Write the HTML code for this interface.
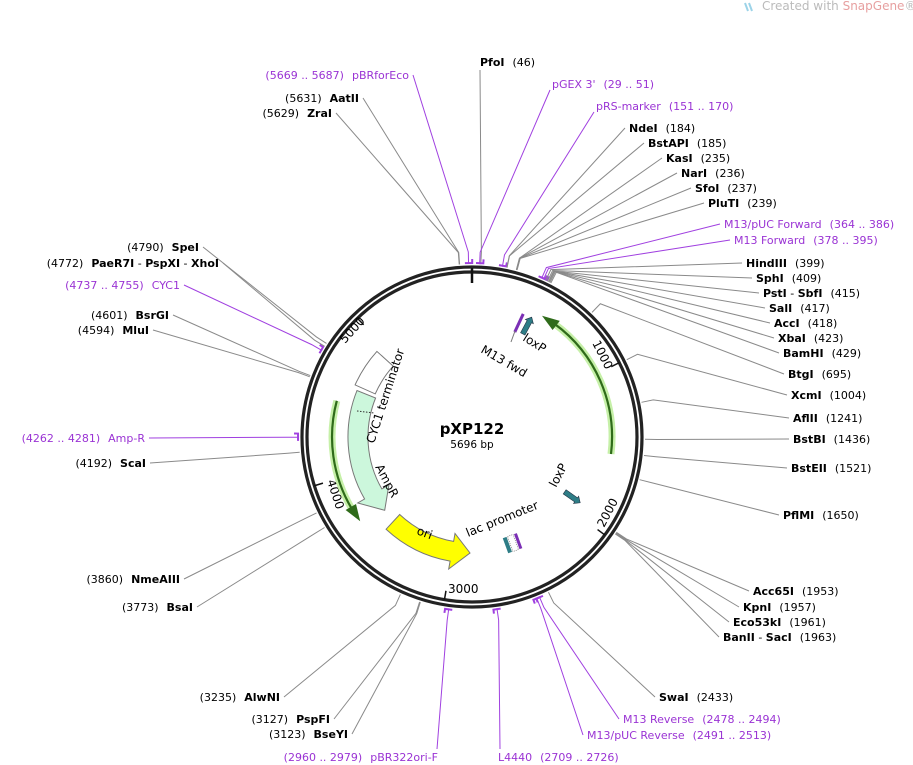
<!DOCTYPE html>
<html><head><meta charset="utf-8">
<style>
html,body{margin:0;padding:0;background:#fff;}
svg{display:block;font-family:"DejaVu Sans","Liberation Sans",sans-serif;}
.n{font-size:11px;fill:#000;}
.b{font-weight:bold;}
.p{fill:#9a33d4;font-size:11px;}
</style></head>
<body>
<svg id="s" width="913" height="765" viewBox="0 0 913 765" xmlns="http://www.w3.org/2000/svg">
<text x="762" y="10" font-size="12" fill="#bbb">Created with <tspan fill="#e7a0a0">SnapGene</tspan>®</text>
<path d="M745,3 l3,8 M749,3 l3,8" stroke="#9cd3e8" stroke-width="2"/>
<g id="leaders" fill="none" stroke-width="1"></g>

<!-- rings -->
<circle cx="472" cy="437" r="170" fill="none" stroke="#222" stroke-width="3.2"/>
<circle cx="472" cy="437" r="165" fill="none" stroke="#222" stroke-width="3.2"/>
<line x1="472" y1="268" x2="472" y2="283" stroke="#111" stroke-width="2.5"/>
<g id="ticks" stroke="#111" stroke-width="1.5"></g>

<!-- tick labels -->
<text x="0" y="0" font-size="12" transform="translate(592,343) rotate(63)">1000</text>
<text x="0" y="0" font-size="12" transform="translate(604,528) rotate(-62)">2000</text>
<text x="448" y="593" font-size="12">3000</text>
<text x="0" y="0" font-size="12" transform="translate(327,481) rotate(72)">4000</text>
<text x="0" y="0" font-size="12" transform="translate(345,344) rotate(-48)">5000</text>

<!-- features -->
<path d="M611,454 A140 140 0 0 0 554.3,323.7" fill="none" stroke="#c6f0a8" stroke-width="7"/>
<path d="M611,454 A140 140 0 0 0 554.3,323.7" fill="none" stroke="#2f6b1a" stroke-width="2.2"/>
<path d="M542,315.8 L552.6,330 L559.8,320.9 Z" fill="#2f6b1a"/>
<path d="M336.8,400.8 A140 140 0 0 0 352,509.1" fill="none" stroke="#c6f0a8" stroke-width="7"/>
<path d="M336.8,400.8 A140 140 0 0 0 352,509.1" fill="none" stroke="#2f6b1a" stroke-width="2.2"/>
<path d="M360.2,521.3 L356,504 L345.6,510 Z" fill="#2f6b1a"/>

<path d="M357,390.5 A124 124 0 0 0 364.6,499 L357.7,503 L384.7,510.3 L388.9,485 L381.9,489 A104 104 0 0 1 375.6,398 Z" fill="#ccf7dc" stroke="#777" stroke-width="1"/>
<line x1="357" y1="411" x2="374" y2="413" stroke="#333" stroke-dasharray="1.5,1.5"/>
<path d="M355.1,384.9 A128 128 0 0 1 376.9,351.4 L393.2,366.1 A106 106 0 0 0 375.2,393.9 Z" fill="#fff" stroke="#777" stroke-width="1"/>
<path d="M386.1,529.2 A126 126 0 0 0 450.1,561.1 L448.7,569 L470,553 L455,533.5 L453.6,541.4 A106 106 0 0 1 399.7,514.5 Z" fill="#ffff00" stroke="#777" stroke-width="1"/>

<!-- small features -->
<g transform="translate(527,326) rotate(-62)"><path d="M-9,-2.5 L5,-2.5 L5,-4.5 L10,0 L5,4.5 L5,2.5 L-9,2.5 Z" fill="#2e7d86" stroke="#234" stroke-width="0.6"/></g>
<g transform="translate(519,323) rotate(-65)"><path d="M-10,-1.5 L10,-1.5 L10,1.5 L-10,1.5 Z" fill="#7b2fb5"/></g>
<line x1="515" y1="331" x2="511" y2="342" stroke="#777"/>
<g transform="translate(572,497) rotate(35)"><path d="M-9,-2.5 L5,-2.5 L5,-4.5 L10,0 L5,4.5 L5,2.5 L-9,2.5 Z" fill="#2e7d86" stroke="#234" stroke-width="0.6"/></g>
<g transform="translate(513,543) rotate(-20)">
<rect x="-8" y="-8" width="4" height="16" fill="#2e7d86"/>
<rect x="-3" y="-8" width="6" height="16" fill="#fff" stroke="#555" stroke-width="0.6" stroke-dasharray="1,1"/>
<rect x="4" y="-8" width="3" height="16" fill="#7b2fb5"/>
</g>

<!-- inner labels -->
<text x="0" y="0" font-size="12" transform="translate(522,340) rotate(32)">loxP</text>
<text x="0" y="0" font-size="12" transform="translate(480,352) rotate(30)">M13 fwd</text>
<text x="0" y="0" font-size="12" transform="translate(556,488) rotate(-62)">loxP</text>
<text x="0" y="0" font-size="12" transform="translate(468,537) rotate(-22)">lac promoter</text>
<text x="0" y="0" font-size="12" transform="translate(374,444) rotate(-72)">CYC1 terminator</text>
<text x="0" y="0" font-size="12" transform="translate(375,467) rotate(62)">AmpR</text>
<text x="0" y="0" font-size="12" transform="translate(416,534) rotate(20)">ori</text>

<text x="472" y="434" text-anchor="middle" font-size="15" font-weight="bold">pXP122</text>
<text x="472" y="448" text-anchor="middle" font-size="10.5">5696 bp</text>

<!-- right labels -->
<g class="n">
<text x="480" y="66"><tspan class="b">PfoI</tspan><tspan dx="8">(46)</tspan></text>
<text x="552" y="88" class="p">pGEX 3'<tspan dx="8">(29 .. 51)</tspan></text>
<text x="596" y="110" class="p">pRS-marker<tspan dx="8">(151 .. 170)</tspan></text>
<text x="629" y="132"><tspan class="b">NdeI</tspan><tspan dx="8">(184)</tspan></text>
<text x="648" y="147"><tspan class="b">BstAPI</tspan><tspan dx="8">(185)</tspan></text>
<text x="666" y="162"><tspan class="b">KasI</tspan><tspan dx="8">(235)</tspan></text>
<text x="681" y="177"><tspan class="b">NarI</tspan><tspan dx="8">(236)</tspan></text>
<text x="695" y="192"><tspan class="b">SfoI</tspan><tspan dx="8">(237)</tspan></text>
<text x="708" y="207"><tspan class="b">PluTI</tspan><tspan dx="8">(239)</tspan></text>
<text x="724" y="228" class="p">M13/pUC Forward<tspan dx="8">(364 .. 386)</tspan></text>
<text x="734" y="244" class="p">M13 Forward<tspan dx="8">(378 .. 395)</tspan></text>
<text x="746" y="267"><tspan class="b">HindIII</tspan><tspan dx="8">(399)</tspan></text>
<text x="756" y="282"><tspan class="b">SphI</tspan><tspan dx="8">(409)</tspan></text>
<text x="763" y="297"><tspan class="b">PstI</tspan> - <tspan class="b">SbfI</tspan><tspan dx="8">(415)</tspan></text>
<text x="769" y="312"><tspan class="b">SalI</tspan><tspan dx="8">(417)</tspan></text>
<text x="774" y="327"><tspan class="b">AccI</tspan><tspan dx="8">(418)</tspan></text>
<text x="778" y="342"><tspan class="b">XbaI</tspan><tspan dx="8">(423)</tspan></text>
<text x="783" y="357"><tspan class="b">BamHI</tspan><tspan dx="8">(429)</tspan></text>
<text x="788" y="378"><tspan class="b">BtgI</tspan><tspan dx="8">(695)</tspan></text>
<text x="791" y="399"><tspan class="b">XcmI</tspan><tspan dx="8">(1004)</tspan></text>
<text x="793" y="422"><tspan class="b">AflII</tspan><tspan dx="8">(1241)</tspan></text>
<text x="793" y="443"><tspan class="b">BstBI</tspan><tspan dx="8">(1436)</tspan></text>
<text x="791" y="472"><tspan class="b">BstEII</tspan><tspan dx="8">(1521)</tspan></text>
<text x="783" y="519"><tspan class="b">PflMI</tspan><tspan dx="8">(1650)</tspan></text>
<text x="753" y="595"><tspan class="b">Acc65I</tspan><tspan dx="8">(1953)</tspan></text>
<text x="743" y="611"><tspan class="b">KpnI</tspan><tspan dx="8">(1957)</tspan></text>
<text x="733" y="626"><tspan class="b">Eco53kI</tspan><tspan dx="8">(1961)</tspan></text>
<text x="723" y="641"><tspan class="b">BanII</tspan> - <tspan class="b">SacI</tspan><tspan dx="8">(1963)</tspan></text>
<text x="659" y="701"><tspan class="b">SwaI</tspan><tspan dx="8">(2433)</tspan></text>
<text x="623" y="723" class="p">M13 Reverse<tspan dx="8">(2478 .. 2494)</tspan></text>
<text x="587" y="739" class="p">M13/pUC Reverse<tspan dx="8">(2491 .. 2513)</tspan></text>
<text x="498" y="761" class="p">L4440<tspan dx="8">(2709 .. 2726)</tspan></text>
</g>
<!-- left labels -->
<g class="n" text-anchor="end">
<text x="409" y="79" class="p">(5669 .. 5687)<tspan dx="8">pBRforEco</tspan></text>
<text x="359" y="102">(5631)<tspan dx="8" class="b">AatII</tspan></text>
<text x="332" y="117">(5629)<tspan dx="8" class="b">ZraI</tspan></text>
<text x="199" y="251">(4790)<tspan dx="8" class="b">SpeI</tspan></text>
<text x="219" y="267">(4772)<tspan dx="8" class="b">PaeR7I</tspan> - <tspan class="b">PspXI</tspan> - <tspan class="b">XhoI</tspan></text>
<text x="180" y="289" class="p">(4737 .. 4755)<tspan dx="8">CYC1</tspan></text>
<text x="169" y="319">(4601)<tspan dx="8" class="b">BsrGI</tspan></text>
<text x="149" y="334">(4594)<tspan dx="8" class="b">MluI</tspan></text>
<text x="145" y="442" class="p">(4262 .. 4281)<tspan dx="8">Amp-R</tspan></text>
<text x="146" y="467">(4192)<tspan dx="8" class="b">ScaI</tspan></text>
<text x="180" y="583">(3860)<tspan dx="8" class="b">NmeAIII</tspan></text>
<text x="193" y="611">(3773)<tspan dx="8" class="b">BsaI</tspan></text>
<text x="280" y="701">(3235)<tspan dx="8" class="b">AlwNI</tspan></text>
<text x="330" y="723">(3127)<tspan dx="8" class="b">PspFI</tspan></text>
<text x="348" y="738">(3123)<tspan dx="8" class="b">BseYI</tspan></text>
<text x="438" y="761" class="p">(2960 .. 2979)<tspan dx="8">pBR322ori-F</tspan></text>
</g>

<script>
(function(){
var NS="http://www.w3.org/2000/svg",cx=472,cy=437;
function P(r,a){a=a*Math.PI/180;return [cx+r*Math.sin(a),cy-r*Math.cos(a)];}
var L=[[46,480,70,0],[40,550,90,1],[160,594,112,1],[184,625,128],[185,644,143],[235,662,158],[236,677,173],[237,691,188],[239,704,203],[375,720,224,1],[386,730,240,1],[399,742,263],[409,752,278],[415,759,293],[417,765,308],[418,770,323],[423,774,338],[429,779,353],[695,784,374],[1004,787,395],[1241,789,418],[1436,789,439],[1521,787,468],[1650,779,515],[1953,749,591],[1957,739,607],[1961,729,622],[1963,719,637],[2433,655,697],[2486,619,719,1],[2502,583,735,1],[2717,500,749,1],[2970,437,749,1],[3123,352,734],[3127,334,719],[3235,284,697],[3773,197,607],[3860,184,579],[4192,150,463],[4271,149,438,1],[4594,153,330],[4601,173,315],[4746,184,285,1],[4772,223,263],[4790,203,247],[5629,336,113],[5631,363,98],[5678,413,75,1]];
var g=document.getElementById("leaders");
L.forEach(function(d){var a=d[0]/5696*360,p1=P(173,a),p2=P(185,a);
var pl=document.createElementNS(NS,"polyline");
pl.setAttribute("points",p1.join(",")+" "+p2.join(",")+" "+d[1]+","+d[2]);
pl.setAttribute("stroke",d[3]?"#a040e0":"#8a8a8a");g.appendChild(pl);
if(d[3]){var q1=P(174,a-1.2),q2=P(174,a+1.2),k=P(178,a+1.2);
var pm=document.createElementNS(NS,"polyline");
pm.setAttribute("points",q1.join(",")+" "+q2.join(",")+" "+k.join(","));
pm.setAttribute("stroke","#a040e0");pm.setAttribute("stroke-width","2");g.appendChild(pm);}
});
var t=document.getElementById("ticks");
[1000,2000,3000,4000,5000].forEach(function(v){var a=v/5696*360,p1=P(165,a),p2=P(156,a);
var l=document.createElementNS(NS,"line");l.setAttribute("x1",p1[0]);l.setAttribute("y1",p1[1]);l.setAttribute("x2",p2[0]);l.setAttribute("y2",p2[1]);t.appendChild(l);});
})();
</script>
</svg>
</body></html>
